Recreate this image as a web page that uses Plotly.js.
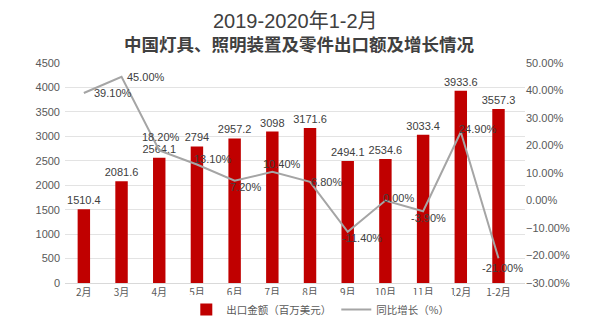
<!DOCTYPE html>
<html>
<head>
<meta charset="utf-8">
<script src="https://cdn.plot.ly/plotly-3.0.1.min.js"></script>
<style>html,body{margin:0;padding:0;background:#fff;}#chart{width:599px;height:331px;}</style>
</head>
<body>
<div id="chart"></div>
<script>
const months = ["2月","3月","4月","5月","6月","7月","8月","9月","10月","11月","12月","1-2月"];
const exportValue = [1510.4, 2081.6, 2564.1, 2794, 2957.2, 3098, 3171.6, 2494.1, 2534.6, 3033.4, 3933.6, 3557.3];
const growthPct = [39.10, 45.00, 18.20, 13.10, 7.20, 10.40, 6.80, -11.40, 0.00, -3.90, 24.90, -21.00];
const barName = "出口金额（百万美元）";
const lineName = "同比增长（%）";
const titleLine1 = "2019-2020年1-2月";
const titleLine2 = "中国灯具、照明装置及零件出口额及增长情况";

// label placement (pixel shifts of the growth labels relative to their points)
const growthLabelShift = [[29,0],[24,0],[2,13],[16,5],[11,-6],[10,8],[16,0],[14,-6],[13,3],[5,-7],[17,3],[4,-10]];

const FONT = "Liberation Sans, Arial, Noto Sans CJK SC, sans-serif";
const CJK = "Noto Sans CJK SC, Liberation Sans, sans-serif";

const traces = [
  {
    type: "bar", x: months, y: exportValue, name: barName,
    marker: {color: "#C00000"}, width: 0.33,
    text: exportValue.map(v => String(v)), textposition: "outside", constraintext: "none",
    textfont: {family: FONT, size: 11, color: "#404040"},
    cliponaxis: false, hoverinfo: "none"
  },
  {
    type: "scatter", mode: "lines", x: months, y: growthPct, yaxis: "y2", name: lineName,
    line: {color: "#A5A5A5", width: 2},
    cliponaxis: false, hoverinfo: "none"
  }
];

const annotations = [
  {text: titleLine1, xref: "paper", yref: "paper", x: 0.5, y: (283 - 21) / 220, xanchor: "center", yanchor: "middle",
   showarrow: false, font: {family: FONT, size: 20, color: "#404040"}},
  {text: "<b>" + titleLine2 + "</b>", xref: "paper", yref: "paper", x: 0.508, y: (283 - 44) / 220, xanchor: "center", yanchor: "middle",
   showarrow: false, font: {family: CJK, size: 17.5, color: "#404040"}}
];
growthPct.forEach((v, i) => {
  annotations.push({
    text: v.toFixed(2) + "%", x: months[i], y: v, xref: "x", yref: "y2",
    xanchor: "center", yanchor: "middle", showarrow: false,
    xshift: growthLabelShift[i][0], yshift: growthLabelShift[i][1],
    font: {family: FONT, size: 11, color: "#404040"}
  });
});

const layout = {
  width: 599, height: 331,
  margin: {l: 65, r: 74, t: 63, b: 48, autoexpand: false},
  paper_bgcolor: "#ffffff", plot_bgcolor: "#ffffff",
  font: {family: FONT, size: 11, color: "#595959"},
  showlegend: true,
  legend: {orientation: "h", x: 0.555, xanchor: "center", y: -0.12, yanchor: "middle",
           font: {family: CJK, size: 10.5, color: "#595959"}, traceorder: "normal"},
  bargap: 0.67,
  xaxis: {type: "category", showgrid: false, zeroline: false, showline: true, linecolor: "#D9D9D9",
          ticks: "", tickfont: {family: CJK, size: 10, color: "#595959"}},
  yaxis: {range: [0, 4500], dtick: 500, showgrid: true, gridcolor: "#E3E3E3", zeroline: false,
          ticks: "", tickfont: {family: FONT, size: 11, color: "#595959"}, ticklabelstandoff: 4},
  yaxis2: {overlaying: "y", side: "right", range: [-30, 50], dtick: 10, showgrid: false, zeroline: false,
           tickformat: ".2f", ticksuffix: "%", ticks: "",
           tickfont: {family: FONT, size: 11, color: "#595959"}},
  annotations: annotations
};

Plotly.newPlot("chart", traces, layout, {displayModeBar: false, staticPlot: true});
</script>
</body>
</html>
